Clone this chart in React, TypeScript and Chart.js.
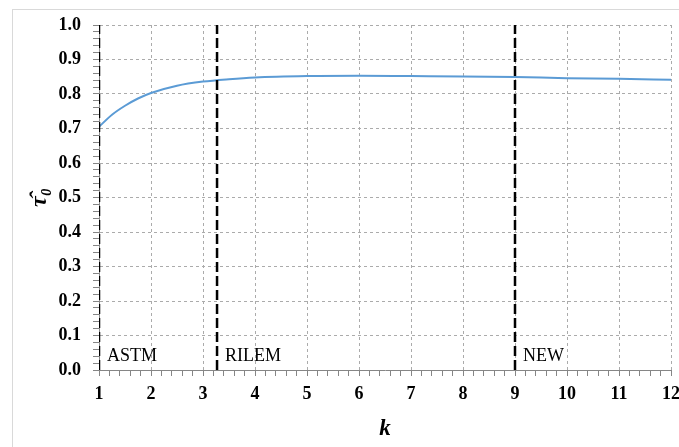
import React, { useEffect, useRef } from "react";
import { Chart, registerables } from "chart.js";

Chart.register(...registerables);

const kValues = [1, 1.25, 1.5, 1.75, 2, 2.5, 3, 3.5, 4, 5, 6, 7, 8, 9, 10, 11, 12];
const tauValues = [0.705, 0.74, 0.766, 0.787, 0.803, 0.824, 0.836, 0.843, 0.848, 0.852, 0.853, 0.852, 0.851, 0.849, 0.846, 0.844, 0.841];
const markerK = [1, 3.27, 9];
const markerLabels = ["ASTM", "RILEM", "NEW"];
const yTitle = "τ̂₀";
const xTitle = "k";

const SERIF = "'Liberation Serif', 'DejaVu Serif', serif";

const labelPlugin = {
  id: "markerLabels",
  afterDatasetsDraw(chart: any) {
    const { ctx, scales } = chart;
    ctx.save();
    ctx.font = `18px ${SERIF}`;
    ctx.fillStyle = "#000";
    ctx.textBaseline = "middle";
    ctx.textAlign = "left";
    markerK.forEach((k, i) => {
      const x = scales.x.getPixelForValue(k) + 8;
      const y = scales.y.getPixelForValue(0.04);
      ctx.fillText(markerLabels[i], x, y);
    });
    ctx.restore();
  },
};

const isMajor = (v: number, step: number) => Math.abs(v / step - Math.round(v / step)) < 1e-6;

export default function App() {
  const ref = useRef<HTMLCanvasElement>(null);
  useEffect(() => {
    if (!ref.current) return;
    const datasets: any[] = [
      {
        data: kValues.map((k, i) => ({ x: k, y: tauValues[i] })),
        borderColor: "#5b9bd5",
        borderWidth: 2,
        pointRadius: 0,
        cubicInterpolationMode: "monotone",
        order: 1,
      },
      ...markerK.map((k) => ({
        data: [
          { x: k, y: 0 },
          { x: k, y: 1 },
        ],
        borderColor: "#000",
        borderWidth: 2.5,
        borderDash: [10, 4],
        pointRadius: 0,
        order: 0,
      })),
    ];
    const chart = new Chart(ref.current, {
      type: "line",
      data: { datasets },
      plugins: [labelPlugin],
      options: {
        animation: false,
        responsive: false,
        layout: { padding: { top: 15, right: 8, left: 0, bottom: 0 } },
        plugins: { legend: { display: false }, tooltip: { enabled: false } },
        scales: {
          x: {
            type: "linear",
            min: 1,
            max: 12,
            afterFit: (s: any) => {
              s.height = 77;
              s.paddingLeft = 0;
              s.paddingRight = 0;
            },
            ticks: {
              stepSize: 0.2,
              autoSkip: false,
              maxRotation: 0,
              padding: 8,
              color: "#000",
              font: { family: SERIF, size: 18, weight: "bold" },
              callback: (v: any) => (isMajor(Number(v), 1) ? String(Math.round(Number(v))) : ""),
            },
            grid: {
              color: (c: any) => (c.tick && isMajor(c.tick.value, 1) ? "#ababab" : "rgba(0,0,0,0)"),
              tickColor: "#868686",
              tickLength: 6,
              tickBorderDash: [],
            },
            border: { color: "#868686", width: 1, dash: [3, 3] },
            title: {
              display: true,
              text: xTitle,
              color: "#000",
              font: { family: SERIF, size: 23, style: "italic", weight: "bold" },
              padding: { top: 4, bottom: 4 },
            },
          },
          y: {
            min: 0,
            max: 1,
            afterFit: (s: any) => {
              s.width = 86;
              s.paddingTop = 0;
              s.paddingBottom = 0;
            },
            ticks: {
              stepSize: 0.02,
              autoSkip: false,
              padding: 12,
              color: "#000",
              font: { family: SERIF, size: 18, weight: "bold" },
              callback: (v: any) => (isMajor(Number(v), 0.1) ? Number(v).toFixed(1) : ""),
            },
            grid: {
              color: (c: any) => (c.tick && isMajor(c.tick.value, 0.1) ? "#ababab" : "rgba(0,0,0,0)"),
              tickColor: "#868686",
              tickLength: 6,
              tickBorderDash: [],
            },
            border: { color: "#868686", width: 1, dash: [3, 3] },
            title: {
              display: true,
              text: yTitle,
              color: "#000",
              font: { family: SERIF, size: 24, style: "italic", weight: "bold" },
              padding: { top: 12, bottom: 0 },
            },
          },
        },
      } as any,
    });
    return () => chart.destroy();
  }, []);
  return (
    <div
      style={{
        position: "absolute",
        left: 12,
        top: 9,
        width: 700,
        height: 460,
        border: "1px solid #d9d9d9",
        boxSizing: "border-box",
      }}
    >
      <canvas ref={ref} width={666} height={437} style={{ display: "block" }} />
    </div>
  );
}
